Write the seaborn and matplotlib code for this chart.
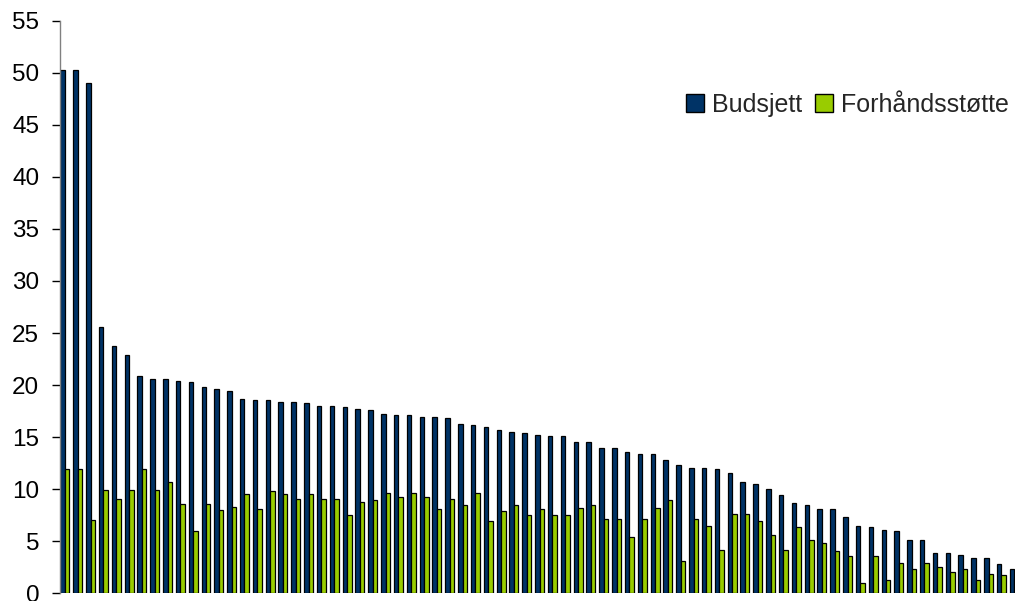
import matplotlib
matplotlib.use("Agg")
import matplotlib.pyplot as plt
import seaborn as sns
import pandas as pd

budsjett = [50.3, 50.3, 49.0, 25.6, 23.8, 22.9, 20.9, 20.6, 20.6, 20.4,
            20.3, 19.8, 19.6, 19.4, 18.7, 18.6, 18.6, 18.4, 18.4, 18.3,
            17.95, 17.95, 17.85, 17.7, 17.6, 17.2, 17.1, 17.1, 16.9, 16.9,
            16.8, 16.3, 16.2, 16.0, 15.7, 15.5, 15.4, 15.2, 15.1, 15.1,
            14.5, 14.5, 14.0, 14.0, 13.6, 13.4, 13.4, 12.8, 12.35, 12.0,
            12.0, 11.9, 11.6, 10.65, 10.5, 10.05, 9.4, 8.65, 8.5, 8.05,
            8.05, 7.3, 6.5, 6.35, 6.05, 6.0, 5.1, 5.1, 3.9, 3.9,
            3.7, 3.4, 3.4, 2.8, 2.35]
forhandsstotte = [11.95, 11.95, 7.05, 9.95, 9.05, 9.95, 11.95, 9.95, 10.7, 8.6,
                  6.0, 8.6, 8.0, 8.25, 9.5, 8.1, 9.8, 9.5, 9.05, 9.5,
                  9.05, 9.05, 7.55, 8.8, 8.95, 9.6, 9.25, 9.6, 9.25, 8.05,
                  9.1, 8.5, 9.6, 6.95, 7.9, 8.5, 7.55, 8.05, 7.55, 7.55,
                  8.2, 8.5, 7.1, 7.1, 5.4, 7.1, 8.2, 8.95, 3.1, 7.1,
                  6.5, 4.2, 7.6, 7.6, 6.95, 5.6, 4.2, 6.35, 5.15, 4.8,
                  4.05, 3.6, 1.0, 3.6, 1.3, 2.95, 2.35, 2.95, 2.5, 2.05,
                  2.35, 1.25, 1.85, 1.75, 1.5]
categories = [str(i + 1) for i in range(len(budsjett))]
series_names = ["Budsjett", "Forhåndsstøtte"]
colors = ["#003366", "#99CC00"]
y_ticks = [0, 5, 10, 15, 20, 25, 30, 35, 40, 45, 50, 55]

df = pd.DataFrame({
    "kategori": categories * 2,
    "verdi": budsjett + forhandsstotte,
    "serie": [series_names[0]] * len(categories) + [series_names[1]] * len(categories),
})

sns.set_theme(style="white")
plt.rcParams["font.family"] = ["Liberation Sans", "DejaVu Sans"]

fig = plt.figure(figsize=(10.15, 6.01), dpi=100)
ax = fig.add_axes([60 / 1015, 7.7 / 601, 1 - 60 / 1015, (593.3 - 20.7) / 601])

sns.barplot(data=df, x="kategori", y="verdi", hue="serie", hue_order=series_names,
            palette=colors, width=0.7, edgecolor="black", linewidth=0.9,
            saturation=1, ax=ax, legend=True)

ax.set_ylim(0, 55)
ax.set_xlim(-0.38, -0.38 + (1015 - 60) / 12.83)
ax.set_yticks(y_ticks)
ax.set_yticklabels([str(t) for t in y_ticks])
ax.set_xticks([])
ax.set_xlabel("")
ax.set_ylabel("")
ax.tick_params(axis="y", which="both", left=True, length=6, width=1, color="black",
               pad=9, labelsize=17.5, labelcolor="black")
for s in ["top", "right", "bottom"]:
    ax.spines[s].set_visible(False)
ax.spines["left"].set_color("#808080")
ax.spines["left"].set_linewidth(1)

leg = ax.legend(loc="center left", bbox_to_anchor=(686 / 1015, 1 - 105 / 601),
                bbox_transform=fig.transFigure, ncol=2, frameon=False,
                fontsize=18, handlelength=0.72, handleheight=0.72,
                handletextpad=0.3, columnspacing=0.55, borderpad=0, borderaxespad=0)
for h in leg.legend_handles:
    h.set_edgecolor("black")
    h.set_linewidth(1)

fig.savefig("out.png", dpi=100)
